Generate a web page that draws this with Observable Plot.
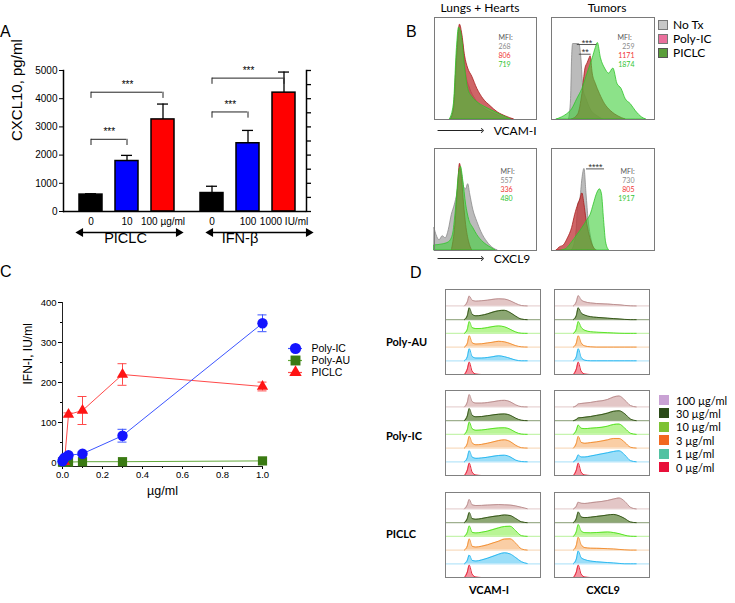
<!DOCTYPE html>
<html><head><meta charset="utf-8">
<script src="https://cdn.jsdelivr.net/npm/d3@7"></script>
<script src="https://cdn.jsdelivr.net/npm/@observablehq/plot@0.6"></script>
<style>
html,body{margin:0;padding:0;background:#fff;}
#fig{position:relative;width:735px;height:603px;overflow:hidden;background:#fff;}
.abs{position:absolute;}
.abs svg{overflow:visible;display:block;}
.txt{position:absolute;white-space:nowrap;line-height:1.15;}
</style></head><body><div id="fig"></div>
<script>
// ================= DATA =================
// Panel A
const dosesPICLC = ["0", "10", "100 µg/ml"];
const dosesIFN = ["0", "100", "1000 IU/ml"];
const cxcl10PICLC = [600, 1790, 3265];
const cxcl10PICLCerr = [30, 200, 545];
const cxcl10IFN = [655, 2420, 4215];
const cxcl10IFNerr = [240, 455, 730];
const barColors = ["#000000", "#0000ff", "#ff0000"];
const yTicksA = [0, 1000, 2000, 3000, 4000, 5000];
const yTicksAminor = [0, 500, 1000, 1500, 2000, 2500, 3000, 3500, 4000, 4500, 5000];
const sigPICLC = [{a: "0", b: "10", level: 2560, label: "***"}, {a: "0", b: "100 µg/ml", level: 4230, label: "***"}];
const sigIFN = [{a: "0", b: "100", level: 3530, label: "***"}, {a: "0", b: "1000 IU/ml", level: 4730, label: "***"}];

// Panel C
const seriesC = ["Poly-IC", "Poly-AU", "PICLC"];
const doseC = [0, 0.003, 0.01, 0.03, 0.1, 0.3, 1];
const polyIC = [3, 7, 12, 18, 22, 67, 348];
const polyICerr = [0, 0, 0, 3, 4, 16, 21];
const polyAU = [1, 1, 1, 1, 2, 2, 4];
const polyAUerr = [0, 0, 0, 0, 0, 0, 0];
const doseCpiclc = [0.01, 0.03, 0.1, 0.3, 1];
const piclcIFN = [2, 120, 130, 220, 190];
const piclcErr = [0, 4, 35, 27, 11];
const yTicksC = [0, 100, 200, 300, 400];
const yTicksCminor = [50, 150, 250, 350];
const xTicksC = [0, 0.2, 0.4, 0.6, 0.8, 1.0];
const xTicksCminor = [0.1, 0.3, 0.5, 0.7, 0.9];

// Panel B histograms: [fluorescence position (0-100), relative count]
const vcamLungNoTx = [[16,0],[20,0.15],[23,0.7],[25,0.88],[28,0.75],[31,0.45],[35,0.3],[40,0.2],[50,0.1],[60,0.05],[72,0]];
const vcamLungPolyIC = [[16,0],[19,0.1],[22,0.6],[25,0.93],[27,0.85],[30,0.62],[33,0.5],[37,0.42],[42,0.3],[48,0.2],[55,0.13],[62,0.07],[70,0.03],[78,0]];
const vcamLungPICLC = [[15,0],[19,0.15],[22,0.7],[24,0.9],[27,0.8],[30,0.5],[33,0.3],[37,0.22],[42,0.17],[50,0.12],[58,0.08],[66,0.04],[75,0]];
const vcamTumNoTx = [[17,0],[19,0.2],[20,0.6],[21,0.74],[27,0.74],[29,0.6],[31,0.3],[34,0.2],[38,0.1],[45,0.03],[50,0]];
const vcamTumPolyIC = [[20,0],[26,0.05],[30,0.25],[33,0.5],[35,0.55],[37,0.6],[38,0.62],[40,0.45],[43,0.35],[47,0.25],[52,0.15],[58,0.08],[65,0.03],[72,0]];
const vcamTumPICLC = [[5,0],[10,0.02],[15,0.05],[20,0.1],[25,0.2],[30,0.3],[35,0.45],[40,0.6],[43,0.7],[45,0.75],[48,0.6],[52,0.5],[56,0.45],[60,0.5],[64,0.35],[68,0.3],[72,0.2],[77,0.15],[82,0.08],[88,0.02],[92,0]];
const cxLungNoTx = [[0,0.22],[2,0.15],[5,0.1],[8,0.14],[11,0.12],[14,0.2],[17,0.35],[20,0.45],[23,0.6],[25,0.8],[27,0.75],[29,0.62],[31,0.6],[33,0.65],[35,0.55],[38,0.4],[42,0.28],[46,0.18],[52,0.08],[58,0.02],[62,0]];
const cxLungPolyIC = [[17,0],[20,0.2],[23,0.6],[25,0.85],[27,0.7],[29,0.45],[31,0.25],[34,0.08],[37,0]];
const cxLungPICLC = [[0,0.05],[8,0.06],[14,0.08],[18,0.15],[21,0.4],[24,0.75],[26,0.82],[28,0.7],[31,0.45],[34,0.3],[38,0.22],[42,0.15],[48,0.08],[55,0.03],[60,0]];
const cxTumNoTx = [[20,0],[24,0.15],[26,0.45],[28,0.5],[30,0.7],[32,0.8],[34,0.55],[36,0.3],[39,0.1],[42,0]];
const cxTumPolyIC = [[5,0],[8,0.03],[12,0.05],[16,0.12],[20,0.22],[23,0.35],[26,0.45],[28,0.5],[30,0.56],[32,0.45],[34,0.3],[37,0.15],[40,0.05],[44,0]];
const cxTumPICLC = [[10,0],[15,0.02],[20,0.08],[25,0.15],[30,0.22],[35,0.3],[38,0.35],[41,0.45],[44,0.55],[47,0.6],[49,0.55],[51,0.3],[53,0.08],[56,0]];
const treatB = ["No Tx", "Poly-IC", "PICLC"];
const mfiVcamLung = ["268", "806", "719"];
const mfiVcamTum = ["259", "1171", "1874"];
const mfiCxLung = ["557", "336", "480"];
const mfiCxTum = ["730", "805", "1917"];
const sigVcamTum = [{x1: 25, x2: 44, y: 0.735, label: "***"}, {x1: 27, x2: 38.5, y: 0.64, label: "**"}];
const sigCxTum = [{x1: 34, x2: 51.5, y: 0.8, label: "****"}];

// Panel D ridgelines: rows 100, 30, 10, 3, 1, 0 µg/ml on a common fluorescence grid
const dosesD = ["100 µg/ml", "30 µg/ml", "10 µg/ml", "3 µg/ml", "1 µg/ml", "0 µg/ml"];
const gridD = [20, 23, 25, 28, 32, 38, 44, 50, 56, 62, 68, 74, 80, 86];
const zeroRow = [0, 0.4, 0.9, 0.25, 0.03, 0, 0, 0, 0, 0, 0, 0, 0, 0];
const auVcam = [
  [0, 0.3, 0.72, 0.42, 0.35, 0.38, 0.42, 0.48, 0.52, 0.5, 0.38, 0.18, 0.03, 0],
  [0, 0.3, 0.86, 0.4, 0.28, 0.32, 0.42, 0.55, 0.65, 0.68, 0.52, 0.25, 0.04, 0],
  [0, 0.3, 0.86, 0.42, 0.35, 0.36, 0.42, 0.5, 0.54, 0.48, 0.3, 0.1, 0.01, 0],
  [0, 0.28, 0.83, 0.32, 0.22, 0.24, 0.3, 0.36, 0.42, 0.38, 0.26, 0.1, 0.02, 0],
  [0, 0.3, 0.88, 0.32, 0.2, 0.2, 0.24, 0.3, 0.36, 0.3, 0.18, 0.05, 0, 0],
  zeroRow];
const auCx = [
  [0, 0.3, 0.75, 0.45, 0.3, 0.22, 0.18, 0.16, 0.14, 0.11, 0.08, 0.04, 0.01, 0],
  [0, 0.3, 0.86, 0.5, 0.33, 0.22, 0.17, 0.14, 0.11, 0.08, 0.05, 0.02, 0, 0],
  [0, 0.3, 0.86, 0.45, 0.22, 0.12, 0.09, 0.07, 0.05, 0.03, 0.01, 0, 0, 0],
  [0, 0.3, 0.82, 0.32, 0.08, 0.02, 0, 0, 0, 0, 0, 0, 0, 0],
  [0, 0.3, 0.88, 0.26, 0.04, 0, 0, 0, 0, 0, 0, 0, 0, 0],
  zeroRow];
const icVcam = [
  [0, 0.35, 0.9, 0.4, 0.28, 0.28, 0.32, 0.38, 0.45, 0.48, 0.38, 0.15, 0.02, 0],
  [0, 0.35, 0.88, 0.4, 0.28, 0.3, 0.36, 0.42, 0.47, 0.49, 0.4, 0.18, 0.03, 0],
  [0, 0.35, 0.9, 0.42, 0.3, 0.32, 0.37, 0.43, 0.47, 0.48, 0.38, 0.15, 0.02, 0],
  [0, 0.33, 0.86, 0.38, 0.24, 0.27, 0.35, 0.45, 0.55, 0.6, 0.48, 0.2, 0.03, 0],
  [0, 0.3, 0.8, 0.35, 0.25, 0.28, 0.33, 0.4, 0.46, 0.48, 0.36, 0.12, 0.02, 0],
  zeroRow];
const icCx = [
  [0, 0.08, 0.22, 0.25, 0.28, 0.33, 0.4, 0.45, 0.55, 0.72, 0.8, 0.5, 0.1, 0],
  [0, 0.08, 0.2, 0.22, 0.25, 0.3, 0.38, 0.45, 0.55, 0.68, 0.72, 0.5, 0.12, 0],
  [0, 0.3, 0.68, 0.45, 0.42, 0.45, 0.48, 0.52, 0.6, 0.72, 0.75, 0.45, 0.08, 0],
  [0, 0.35, 0.85, 0.42, 0.35, 0.4, 0.45, 0.52, 0.6, 0.7, 0.7, 0.42, 0.06, 0],
  [0, 0.2, 0.5, 0.35, 0.35, 0.42, 0.5, 0.58, 0.66, 0.75, 0.8, 0.5, 0.08, 0],
  zeroRow];
const pVcam = [
  [0, 0.3, 0.69, 0.3, 0.25, 0.26, 0.28, 0.3, 0.32, 0.3, 0.28, 0.22, 0.12, 0.02],
  [0, 0.3, 0.74, 0.3, 0.25, 0.3, 0.38, 0.45, 0.5, 0.56, 0.52, 0.3, 0.06, 0],
  [0, 0.3, 0.76, 0.3, 0.25, 0.3, 0.38, 0.5, 0.62, 0.72, 0.74, 0.4, 0.05, 0],
  [0, 0.3, 0.81, 0.28, 0.22, 0.28, 0.38, 0.52, 0.65, 0.8, 0.82, 0.5, 0.08, 0],
  [0, 0.25, 0.64, 0.25, 0.2, 0.28, 0.4, 0.55, 0.7, 0.8, 0.72, 0.45, 0.15, 0.02],
  zeroRow];
const pCx = [
  [0, 0.2, 0.49, 0.42, 0.4, 0.45, 0.5, 0.55, 0.62, 0.72, 0.8, 0.55, 0.12, 0],
  [0, 0.3, 0.78, 0.42, 0.37, 0.4, 0.45, 0.5, 0.56, 0.6, 0.5, 0.3, 0.05, 0],
  [0, 0.35, 0.86, 0.4, 0.27, 0.26, 0.28, 0.3, 0.32, 0.28, 0.2, 0.08, 0.01, 0],
  [0, 0.35, 0.93, 0.4, 0.18, 0.14, 0.13, 0.12, 0.1, 0.08, 0.05, 0.02, 0, 0],
  [0, 0.35, 0.93, 0.45, 0.3, 0.2, 0.15, 0.12, 0.09, 0.06, 0.03, 0, 0, 0],
  zeroRow];
const rowNamesD = ["Poly-AU", "Poly-IC", "PICLC"];
const markersD = ["VCAM-I", "CXCL9"];

// ================= STYLE =================
const fig = document.getElementById("fig");
const SANS = "'Liberation Sans', Arial, sans-serif";
const LATO = "Lato, 'Open Sans', sans-serif";
const baseStyle = {background: "transparent", overflow: "visible", fontFamily: SANS, fontSize: "10px", color: "#000"};
function place(el, left, top, w) {
  const d = document.createElement("div");
  d.className = "abs"; d.style.left = left + "px"; d.style.top = top + "px";
  if (w) d.style.width = w + "px";
  d.appendChild(el); fig.appendChild(d); return d;
}
function label(text, left, top, css) {
  const d = document.createElement("div");
  d.className = "txt"; d.textContent = text;
  d.style.left = left + "px"; d.style.top = top + "px";
  Object.assign(d.style, css || {});
  fig.appendChild(d); return d;
}

// ================= PANEL A =================
function panelA(doses, vals, errs, sig, opt) {
  const rows = doses.map((d, i) => ({dose: d, value: vals[i], err: errs[i], color: barColors[i]}));
  const step = 36.5, bw = step * 0.65;
  const drops = sig.flatMap(s => [{x: s.a, level: s.level}, {x: s.b, level: s.level}]);
  const marks = [
    Plot.barY(rows, {x: "dose", y1: 0, y2: "value", fill: "color", stroke: "#000", strokeWidth: 1.5}),
    Plot.ruleX(rows, {x: "dose", y1: "value", y2: d => d.value + d.err, stroke: "#000", strokeWidth: 1.3}),
    Plot.ruleY(rows, {x1: "dose", x2: "dose", y: d => d.value + d.err, insetLeft: 6, insetRight: 6, stroke: "#000", strokeWidth: 1.3}),
    Plot.axisX({tickSize: 0, tickPadding: 6, fontSize: 10, label: null}),
    Plot.ruleY([0], {stroke: "#000", strokeWidth: 1.5}),
    Plot.ruleY(sig, {x1: "a", x2: "b", y: "level", insetLeft: bw / 2, insetRight: bw / 2, stroke: "#222", strokeWidth: 1}),
    Plot.ruleX(drops, {x: "x", y1: "level", y2: d => d.level - 220, stroke: "#222", strokeWidth: 1}),
    ...sig.map(s => Plot.text([s], {x: "a", y: "level", text: "label",
      dx: step * (doses.indexOf(s.b) - doses.indexOf(s.a)) / 2, dy: -4, lineAnchor: "bottom", fontSize: 10})),
    // group arrow (line with filled triangular heads) and group label
    Plot.ruleY([0], {dy: 21, insetLeft: opt.arrowL + 4, insetRight: opt.arrowR + 4, stroke: "#000", strokeWidth: 1.3}),
    Plot.dot([0], {frameAnchor: "bottom-left", dx: opt.arrowL + 5, dy: 21, symbol: "triangle", rotate: -90, r: 3.3, fill: "#000", stroke: "none"}),
    Plot.dot([0], {frameAnchor: "bottom-right", dx: -opt.arrowR - 5, dy: 21, symbol: "triangle", rotate: 90, r: 3.3, fill: "#000", stroke: "none"}),
    Plot.text([opt.group], {frameAnchor: "bottom", dx: opt.groupDx, dy: 31, fontSize: 14.5, text: d => d})
  ];
  if (opt.side === "left") {
    marks.push(
      Plot.axisY({ticks: yTicksA, tickSize: 4, tickPadding: 2, fontSize: 10, tickFormat: "d", label: null}),
      Plot.frame({anchor: "left", stroke: "#000", strokeWidth: 1.5}),
      Plot.text(["CXCL10, pg/ml"], {frameAnchor: "left", rotate: -90, dx: -46, fontSize: 15, text: d => d})
    );
  } else {
    marks.push(
      Plot.axisY({anchor: "right", ticks: yTicksAminor, tickSize: 4, tickFormat: () => "", label: null, strokeWidth: 1.3}),
      Plot.frame({anchor: "right", stroke: "#000", strokeWidth: 1.5})
    );
  }
  return Plot.plot({
    width: opt.width, height: 260, marginLeft: opt.ml, marginRight: opt.mr, marginTop: 70, marginBottom: 49,
    style: baseStyle,
    x: {type: "band", domain: doses, paddingInner: 0.35, paddingOuter: 0.175, insetLeft: opt.inL, insetRight: opt.inR, axis: null},
    y: {domain: [0, 5000], axis: null},
    color: {type: "identity"},
    marks
  });
}
place(panelA(dosesPICLC, cxcl10PICLC, cxcl10PICLCerr, sigPICLC,
  {side: "left", width: 185, ml: 63, mr: 0, inL: 8.5, inR: 4, group: "PICLC", groupDx: 1, arrowL: 12, arrowR: 2}), 0, 0, 185);
place(panelA(dosesIFN, cxcl10IFN, cxcl10IFNerr, sigIFN,
  {side: "right", width: 165, ml: 0, mr: 44, inL: 8, inR: 3.5, group: "IFN-β", groupDx: -6, arrowL: 20, arrowR: -7}), 185, 0, 165);

// ================= PANEL C =================
const colC = {"Poly-IC": {mark: "#1414ff", line: "#3c55ff", sym: "circle", r: 5.2},
              "Poly-AU": {mark: "#3a7a12", line: "#62a83a", sym: "square", r: 5.2},
              "PICLC": {mark: "#ff1414", line: "#ff4a4a", sym: "triangle", r: 4.2}};
const rowsC = {
  "Poly-IC": doseC.map((x, i) => ({x, y: polyIC[i], e: polyICerr[i]})),
  "Poly-AU": doseC.map((x, i) => ({x, y: polyAU[i], e: polyAUerr[i]})),
  "PICLC": doseCpiclc.map((x, i) => ({x, y: piclcIFN[i], e: piclcErr[i]}))
};
const drawOrder = ["Poly-AU", "PICLC", "Poly-IC"];
const cMarks = [
  Plot.axisY({ticks: yTicksC, tickSize: 4, tickPadding: 2, fontSize: 9.5, tickFormat: "d", label: null}),
  Plot.axisY({ticks: yTicksCminor, tickSize: 2, tickFormat: () => "", label: null}),
  Plot.axisX({ticks: xTicksC, tickSize: 3, tickPadding: 2, fontSize: 9.5, tickFormat: d3.format(".1f"), label: null}),
  Plot.axisX({ticks: xTicksCminor, tickSize: 2, tickFormat: () => "", label: null}),
  Plot.frame({anchor: "left", stroke: "#222", strokeWidth: 1}),
  Plot.frame({anchor: "bottom", stroke: "#222", strokeWidth: 1}),
  Plot.text(["IFN-I, IU/ml"], {frameAnchor: "left", rotate: -90, dx: -34, fontSize: 12, text: d => d}),
  Plot.text(["µg/ml"], {frameAnchor: "bottom", dy: 28, fontSize: 12.5, text: d => d})
];
for (const s of drawOrder) cMarks.push(Plot.line(rowsC[s], {x: "x", y: "y", stroke: colC[s].line, strokeWidth: 1}));
for (const s of drawOrder) {
  const er = rowsC[s].filter(d => d.e > 0);
  cMarks.push(
    Plot.ruleX(er, {x: "x", y1: d => d.y - d.e, y2: d => d.y + d.e, stroke: colC[s].line, strokeWidth: 1}),
    Plot.ruleY(er, {x1: "x", x2: "x", y: d => d.y + d.e, insetLeft: -4.5, insetRight: -4.5, stroke: colC[s].line, strokeWidth: 1}),
    Plot.ruleY(er, {x1: "x", x2: "x", y: d => d.y - d.e, insetLeft: -4.5, insetRight: -4.5, stroke: colC[s].line, strokeWidth: 1})
  );
}
for (const s of drawOrder) cMarks.push(Plot.dot(rowsC[s], {x: "x", y: "y", symbol: colC[s].sym, r: colC[s].r, fill: colC[s].mark, stroke: "none"}));
place(Plot.plot({
  width: 300, height: 216, marginLeft: 62, marginRight: 38, marginTop: 12, marginBottom: 40,
  style: baseStyle,
  x: {domain: [0, 1], axis: null}, y: {domain: [-10, 400], axis: null},
  marks: cMarks
}), 0, 290, 300);
// legend C
const legCMarks = [];
for (const s of seriesC) {
  legCMarks.push(
    Plot.ruleY([s], {y: d => d, insetLeft: 8, insetRight: 88, stroke: colC[s].line, strokeWidth: 1.2}),
    Plot.dot([s], {y: d => d, frameAnchor: "left", dx: 15, symbol: colC[s].sym, r: colC[s].r + 0.4, fill: colC[s].mark}),
    Plot.text([s], {y: d => d, frameAnchor: "left", dx: 31, textAnchor: "start", fontSize: 10.5, text: d => d})
  );
}
place(Plot.plot({
  width: 110, height: 54, margin: 0, style: baseStyle,
  y: {type: "point", domain: seriesC, range: [9, 45], axis: null},
  marks: legCMarks
}), 280, 333, 110);

// ================= PANEL B =================
const colB = [
  {fill: "#b4b4b4", op: 0.9, stroke: "#8a8a8a"},
  {fill: "#c23a3c", op: 0.78, stroke: "#a81c1c"},
  {fill: "#3fcf3a", op: 0.6, stroke: "#2ec42a"}
];
const mfiColors = ["#8a8a8a", "#f03434", "#33c433"];
function histB(curves, mfi, opt) {
  const marks = curves.map((pts, i) => Plot.areaY(pts, {x: d => d[0], y1: 0, y2: d => d[1],
    fill: colB[i].fill, fillOpacity: colB[i].op, stroke: colB[i].stroke, strokeWidth: 0.8, curve: "monotone-x"}));
  marks.push(Plot.frame({stroke: "#7a7a7a", strokeWidth: 1}));
  const lines = ["MFI:", ...mfi];
  lines.forEach((t, i) => {
    const isHead = i === 0;
    marks.push(Plot.text([t], {frameAnchor: "top-left", text: d => d,
      dx: isHead ? opt.mfiX : opt.numX, dy: opt.mfiY + i * 8.8,
      textAnchor: isHead || opt.numAnchor === "start" ? "start" : "end",
      fill: isHead ? "#555" : mfiColors[i - 1], fontSize: 7, fontFamily: LATO}));
  });
  if (opt.sig) {
    marks.push(
      Plot.ruleY(opt.sig, {x1: "x1", x2: "x2", y: "y", stroke: "#444", strokeWidth: 0.9}),
      Plot.text(opt.sig, {x: d => (d.x1 + d.x2) / 2, y: "y", text: "label", lineAnchor: "bottom", dy: 1, fontSize: 9, fill: "#333", fontFamily: SANS})
    );
  }
  if (opt.axisLabel) {
    marks.push(
      Plot.link([0], {x1: 3, x2: 47, y1: 0, y2: 0, dy: opt.arrowDy, markerEnd: "arrow", stroke: "#222", strokeWidth: 1}),
      Plot.text([opt.axisLabel], {x: 58, y: 0, dy: opt.arrowDy + 1, textAnchor: "start", fontSize: 12, fontFamily: LATO, text: d => d})
    );
  }
  return Plot.plot({
    width: opt.w, height: 102 + (opt.mb || 0), margin: 0, marginBottom: opt.mb || 0,
    style: baseStyle,
    x: {domain: [0, 100], axis: null}, y: {domain: [0, 1], axis: null},
    marks
  });
}
place(histB([vcamLungNoTx, vcamLungPolyIC, vcamLungPICLC], mfiVcamLung,
  {w: 102, mb: 25, mfiX: 64, numX: 64, numAnchor: "start", mfiY: 18, axisLabel: "VCAM-I", arrowDy: 11}), 434, 17, 102);
place(histB([vcamTumNoTx, vcamTumPolyIC, vcamTumPICLC], mfiVcamTum,
  {w: 103, mfiX: 66, numX: 83, numAnchor: "end", mfiY: 18, sig: sigVcamTum}), 551, 17, 103);
place(histB([cxLungNoTx, cxLungPolyIC, cxLungPICLC], mfiCxLung,
  {w: 102, mb: 25, mfiX: 66, numX: 66, numAnchor: "start", mfiY: 21, axisLabel: "CXCL9", arrowDy: 8}), 434, 148, 102);
place(histB([cxTumNoTx, cxTumPolyIC, cxTumPICLC], mfiCxTum,
  {w: 103, mfiX: 69, numX: 83, numAnchor: "end", mfiY: 21, sig: sigCxTum}), 551, 148, 103);
label("Lungs + Hearts", 480, 1, {fontFamily: LATO, fontSize: "12px", lineHeight: "13px", transform: "translateX(-50%)"});
label("Tumors", 607, 1, {fontFamily: LATO, fontSize: "12px", lineHeight: "13px", transform: "translateX(-50%)"});
// legend B
const legBColors = [["#c6c6c6", "#777"], ["#ea6f9c", "#777"], ["#5a9e3a", "#555"]];
treatB.forEach((t, i) => {
  const box = document.createElement("div");
  box.className = "txt";
  Object.assign(box.style, {left: "658px", top: (20 + i * 14) + "px", width: "10px", height: "10px",
    background: legBColors[i][0], border: "1px solid " + legBColors[i][1], boxSizing: "border-box"});
  fig.appendChild(box);
  label(t, 673, 18 + i * 14, {fontFamily: LATO, fontSize: "12px", lineHeight: "13px"});
});

// ================= PANEL D =================
const fillD = ["#dcb8b8", "#6f9150", "#a8f27c", "#f9c28e", "#82d6f6", "#f27888"];
const lineD = ["#b88a8a", "#2c4e10", "#4ee01a", "#f18a2a", "#1fb4ef", "#e3142a"];
const baseD = ["#e8d4d4", "#9fb08f", "#c6f4ae", "#f8dcc0", "#b8e6fa", "#f0b0b8"];
function ridge(matrix) {
  const marks = [];
  for (let r = 0; r < 5; r++) {
    marks.push(Plot.ruleY([5 - r], {y: d => d, stroke: baseD[r], strokeWidth: 1.3}));
  }
  matrix.forEach((vals, r) => {
    const b = 5 - r;
    const pts = gridD.map((x, j) => ({x, base: b, top: b + vals[j]}));
    marks.push(
      Plot.areaY(pts, {x: "x", y1: "base", y2: "top", fill: fillD[r], fillOpacity: 0.8, curve: "monotone-x"}),
      Plot.line(pts, {x: "x", y: "top", stroke: lineD[r], strokeWidth: 0.9, curve: "monotone-x"})
    );
  });
  marks.push(Plot.frame({stroke: "#808080", strokeWidth: 1}));
  return Plot.plot({
    width: 95, height: 85, margin: 0, style: baseStyle,
    x: {domain: [0, 100], axis: null}, y: {domain: [0, 6.2], axis: null},
    marks
  });
}
const gridPanels = [[auVcam, auCx], [icVcam, icCx], [pVcam, pCx]];
const topsD = [289, 390, 492];
gridPanels.forEach((pair, i) => {
  place(ridge(pair[0]), 445, topsD[i], 95);
  place(ridge(pair[1]), 554, topsD[i], 95);
});
const rowLabelY = [343, 437, 535];
rowNamesD.forEach((n, i) => label(n, 386, rowLabelY[i] - 7, {fontFamily: LATO, fontSize: "11px", fontWeight: "700"}));
label(markersD[0], 489, 584, {fontFamily: LATO, fontSize: "11px", fontWeight: "700", transform: "translateX(-50%)"});
label(markersD[1], 603, 584, {fontFamily: LATO, fontSize: "11px", fontWeight: "700", transform: "translateX(-50%)"});
const legDColors = ["#c9a2d4", "#2a4a18", "#7dc234", "#f2681f", "#52c2a2", "#e8103a"];
dosesD.forEach((t, i) => {
  const box = document.createElement("div");
  box.className = "txt";
  Object.assign(box.style, {left: "659px", top: (395 + i * 13.4) + "px", width: "10px", height: "10px", background: legDColors[i]});
  fig.appendChild(box);
  label(t, 676, 394.5 + i * 13.4, {fontFamily: LATO, fontSize: "11px", lineHeight: "11px"});
});

// ================= PANEL LETTERS =================
label("A", 0, 23, {fontFamily: SANS, fontSize: "16px"});
label("B", 406, 23, {fontFamily: SANS, fontSize: "16px"});
label("C", 0, 263, {fontFamily: SANS, fontSize: "16px"});
label("D", 410, 264, {fontFamily: SANS, fontSize: "16px"});
</script></body></html>
